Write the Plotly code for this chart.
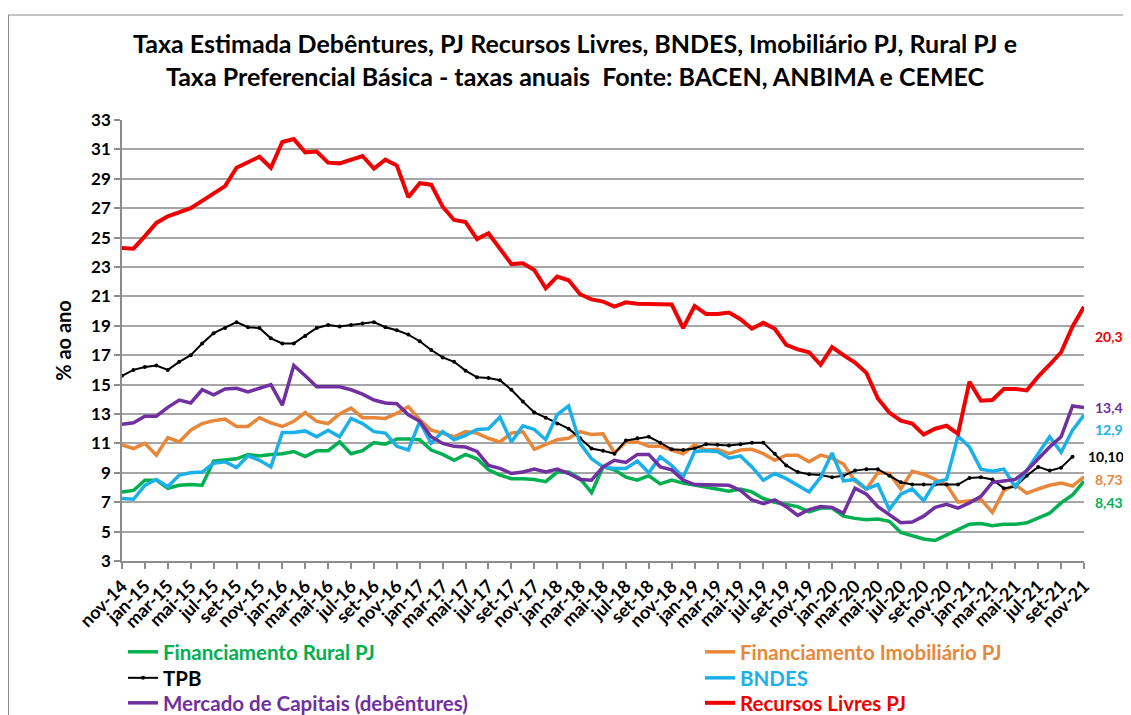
import plotly.graph_objects as go

# ---------------- data ----------------
years = ["14", "15", "16", "17", "18", "19", "20", "21"]
mnames = ["jan", "fev", "mar", "abr", "mai", "jun", "jul", "ago", "set", "out", "nov", "dez"]
months = ["nov-14", "dez-14"] + [f"{m}-{y}" for y in years[1:] for m in mnames][:83]

recursos_livres = [24.3, 24.25, 25.1, 26.0, 26.45, 26.7, 27.0, 27.5, 28.0, 28.5, 29.75, 30.1, 30.5, 29.75,
                   31.5, 31.7, 30.8, 30.85, 30.1, 30.05, 30.3, 30.55, 29.7, 30.3, 29.9, 27.75, 28.7, 28.6,
                   27.1, 26.2, 26.05, 24.9, 25.3, 24.25, 23.2, 23.25, 22.8, 21.55, 22.35, 22.1, 21.15, 20.8,
                   20.65, 20.3, 20.6, 20.5, 20.5, 20.5, 20.45, 18.85, 20.35, 19.8, 19.8, 19.9, 19.45, 18.8,
                   19.2, 18.8, 17.7, 17.4, 17.2, 16.35, 17.55, 17.0, 16.5, 15.8, 14.05, 13.1, 12.55, 12.35,
                   11.6, 12.0, 12.2, 11.65, 15.2, 13.9, 13.95, 14.7, 14.7, 14.6, 15.55, 16.35, 17.2, 18.95,
                   20.30]

tpb = [15.6, 16.0, 16.2, 16.3, 16.0, 16.55, 17.0, 17.8, 18.5, 18.85, 19.25, 18.9, 18.85, 18.15, 17.8,
       17.8, 18.3, 18.85, 19.05, 18.95, 19.05, 19.15, 19.25, 18.9, 18.7, 18.4, 17.95, 17.35, 16.85, 16.55,
       15.95, 15.5, 15.45, 15.3, 14.65, 13.85, 13.1, 12.75, 12.35, 12.0, 11.35, 10.65, 10.5, 10.3, 11.2,
       11.35, 11.45, 11.05, 10.6, 10.55, 10.65, 10.95, 10.9, 10.85, 10.95, 11.05, 11.05, 10.3, 9.5, 9.05,
       8.9, 8.85, 8.7, 8.8, 9.15, 9.25, 9.25, 8.8, 8.35, 8.2, 8.2, 8.2, 8.2, 8.2, 8.65, 8.7, 8.55, 7.95,
       8.05, 8.8, 9.4, 9.15, 9.35, 10.10, None]

debentures = [12.3, 12.4, 12.85, 12.85, 13.45, 13.95, 13.75, 14.65, 14.3, 14.7, 14.75, 14.5, 14.75, 15.0,
              13.6, 16.3, 15.6, 14.85, 14.85, 14.85, 14.65, 14.35, 13.95, 13.75, 13.7, 12.95, 12.5, 11.45,
              11.0, 10.8, 10.75, 10.45, 9.5, 9.3, 8.95, 9.05, 9.25, 9.05, 9.25, 8.95, 8.55, 8.5, 9.4, 9.85,
              9.7, 10.25, 10.25, 9.4, 9.2, 8.5, 8.2, 8.2, 8.2, 8.15, 7.8, 7.15, 6.9, 7.15, 6.7, 6.1, 6.5,
              6.7, 6.65, 6.25, 7.95, 7.55, 6.7, 6.15, 5.6, 5.65, 6.05, 6.65, 6.85, 6.6, 6.95, 7.4, 8.35,
              8.45, 8.55, 9.15, 9.95, 10.75, 11.45, 13.55, 13.44]

imobiliario = [10.9, 10.65, 11.0, 10.2, 11.4, 11.1, 11.9, 12.35, 12.55, 12.65, 12.15, 12.15, 12.75, 12.4,
               12.15, 12.5, 13.1, 12.5, 12.35, 13.0, 13.4, 12.75, 12.75, 12.7, 13.05, 13.5, 12.6, 11.9,
               11.7, 11.45, 11.8, 11.7, 11.35, 11.1, 11.7, 11.8, 10.6, 10.9, 11.25, 11.35, 11.8, 11.6,
               11.65, 10.35, 11.1, 11.1, 10.8, 10.8, 10.55, 10.3, 10.9, 10.55, 10.6, 10.3, 10.55, 10.6,
               10.3, 9.85, 10.2, 10.2, 9.75, 10.2, 10.0, 9.6, 8.45, 7.9, 9.0, 8.95, 7.9, 9.1, 8.9, 8.55,
               8.2, 7.0, 7.1, 7.2, 6.3, 7.8, 8.2, 7.6, 7.9, 8.15, 8.3, 8.1, 8.73]

bndes = [7.25, 7.2, 8.15, 8.55, 8.05, 8.85, 9.0, 9.05, 9.65, 9.75, 9.35, 10.15, 9.85, 9.4, 11.75, 11.75,
         11.85, 11.45, 11.9, 11.45, 12.7, 12.35, 11.8, 11.7, 10.8, 10.55, 12.5, 11.0, 11.8, 11.25, 11.55,
         11.95, 12.0, 12.8, 11.1, 12.2, 11.95, 11.25, 12.95, 13.55, 11.0, 9.95, 9.4, 9.3, 9.3, 9.8, 9.0,
         10.1, 9.5, 8.7, 10.45, 10.5, 10.45, 10.0, 10.15, 9.4, 8.5, 8.95, 8.6, 8.15, 7.7, 8.7, 10.35,
         8.45, 8.55, 7.9, 8.2, 6.5, 7.55, 7.9, 7.1, 8.35, 8.55, 11.5, 10.75, 9.25, 9.1, 9.25, 8.05,
         9.15, 10.3, 11.45, 10.4, 11.9, 12.93]

rural = [7.7, 7.8, 8.5, 8.5, 7.95, 8.15, 8.2, 8.15, 9.8, 9.85, 9.95, 10.25, 10.15, 10.25, 10.3, 10.45,
         10.1, 10.5, 10.5, 11.1, 10.3, 10.5, 11.05, 10.95, 11.3, 11.3, 11.25, 10.55, 10.25, 9.85, 10.25,
         9.95, 9.2, 8.85, 8.6, 8.6, 8.55, 8.4, 9.05, 9.05, 8.6, 7.65, 9.4, 9.2, 8.7, 8.5, 8.8, 8.25, 8.5,
         8.3, 8.15, 8.05, 7.9, 7.75, 7.9, 7.7, 7.25, 7.0, 6.85, 6.7, 6.35, 6.6, 6.6, 6.05, 5.9, 5.8, 5.85,
         5.7, 4.95, 4.7, 4.5, 4.4, 4.75, 5.15, 5.5, 5.55, 5.4, 5.5, 5.5, 5.6, 5.9, 6.25, 6.95, 7.5, 8.43]

series_names = ["Financiamento Rural PJ", "Financiamento Imobiliário PJ", "TPB", "BNDES",
                "Mercado de Capitais (debêntures)", "Recursos Livres PJ"]
series_values = [rural, imobiliario, tpb, bndes, debentures, recursos_livres]
series_colors = ["#00B050", "#E8873A", "#000000", "#1CB0EA", "#7030A0", "#F00000"]
series_widths = [3.5, 3.5, 2, 3.5, 3.5, 4]

FONT = "Lato"

# page body margin is 8px -> figure coordinates = screen - 8
L, T = 114, 112
PW, PH = 962, 441
W, H = 1131, 715

def px_x(fx):  # figure px -> paper x
    return (fx - L) / PW

def px_y(fy):  # figure px -> paper y
    return (T + PH - fy) / PH

# legend layout: 3 rows x 2 columns (row-major in series order)
legend_cols = [115, 692]          # figure-px left edge of each column
legend_rows = [644, 670, 695]     # figure-px centre of each row

fig = go.Figure()
legend_layouts = {}
for k, (name, vals, color, width) in enumerate(zip(series_names, series_values, series_colors, series_widths)):
    is_tpb = name == "TPB"
    lg = "legend" if k == 0 else f"legend{k + 1}"
    fig.add_trace(go.Scatter(
        x=months, y=vals,
        mode="lines+markers" if is_tpb else "lines",
        line=dict(color=color, width=width),
        marker=dict(size=4, color=color) if is_tpb else None,
        name=f'<span style="color:{color}"><b>{name}</b></span>',
        legend=lg, showlegend=True, connectgaps=False,
    ))
    legend_layouts[lg] = dict(
        x=px_x(legend_cols[k % 2]), xanchor="left",
        y=px_y(legend_rows[k // 2]), yanchor="middle",
        orientation="v", font=dict(family=FONT, size=20.5), itemwidth=30,
        bgcolor="rgba(0,0,0,0)", borderwidth=0, visible=True,
    )

# end-of-series value labels
end_labels = [
    (recursos_livres, months[-1], "#F00000", 9, -30),
    (debentures, months[-1], "#7030A0", 9, 0),
    (bndes, months[-1], "#1CB0EA", 9, -14),
    (tpb[:-1], months[-2], "#000000", 13, 0),
    (imobiliario, months[-1], "#E8873A", 9, -3),
    (rural, months[-1], "#00B050", 9, -21),
]
for vals, xcat, color, xs, ys in end_labels:
    v = vals[-1]
    fig.add_annotation(
        x=xcat, y=v, xref="x", yref="y",
        text=f"<b>{v:.2f}</b>".replace(".", ","),
        showarrow=False, xanchor="left", yanchor="middle",
        xshift=xs, yshift=ys,
        font=dict(family=FONT, size=14, color=color),
    )

# small leader brackets (pixel offsets from the last point) for BNDES and Rural labels
leaders = [(bndes, "#404040", "M2,-3 L2,-13 L8,-13"), (rural, "#404040", "M2,-8 L2,-17 L8,-17")]
shapes = [dict(
    type="rect", xref="paper", yref="paper",
    x0=px_x(0.5), x1=px_x(1160),
    y0=px_y(740), y1=px_y(7),
    line=dict(color="#8a8a8a", width=1), fillcolor="rgba(0,0,0,0)", layer="below",
)]
for vals, color, path in leaders:
    shapes.append(dict(
        type="path", xref="x", yref="y",
        xsizemode="pixel", ysizemode="pixel",
        xanchor=months[-1], yanchor=vals[-1],
        path=path, line=dict(color=color, width=1.2),
    ))

tick_cats = months[::2]

fig.update_layout(
    width=W, height=H, showlegend=True,
    paper_bgcolor="white", plot_bgcolor="white",
    margin=dict(l=L, r=W - L - PW, t=T, b=H - T - PH, autoexpand=False),
    font=dict(family=FONT, color="black"),
    title=dict(
        text="<b>Taxa Estimada Debêntures, PJ Recursos Livres, BNDES, Imobiliário PJ, Rural PJ e<br>"
             "Taxa Preferencial Básica - taxas anuais  Fonte: BACEN, ANBIMA e CEMEC</b>",
        x=567 / W, xanchor="center", y=1 - 45 / H, yanchor="middle",
        font=dict(family=FONT, size=25, color="black"),
    ),
    xaxis=dict(
        type="category", range=[0, len(months) - 1],
        tickmode="array", tickvals=tick_cats, ticktext=[f"<b>{t}</b>" for t in tick_cats],
        tickangle=-45, tickfont=dict(family=FONT, size=18, color="black"),
        ticks="outside", ticklen=6, tickcolor="#8c8c8c", tickwidth=1.5,
        showgrid=False, showline=True, linecolor="#8c8c8c", linewidth=1.5,
        zeroline=False, automargin=False,
    ),
    yaxis=dict(
        range=[3, 33], tickmode="linear", tick0=3, dtick=2,
        tickfont=dict(family=FONT, size=17, color="black"),
        tickprefix="<b>", ticksuffix="</b>",
        ticks="outside", ticklen=6, tickcolor="#8c8c8c", tickwidth=1.5,
        showgrid=True, gridcolor="#a6a6a6", gridwidth=1.5,
        showline=True, linecolor="#8c8c8c", linewidth=1.5,
        zeroline=False, automargin=False,
        title=dict(text="<b>% ao ano</b>", font=dict(family=FONT, size=20, color="black"), standoff=14),
    ),
    shapes=shapes,
    **legend_layouts,
)

fig.write_html("out.html")
